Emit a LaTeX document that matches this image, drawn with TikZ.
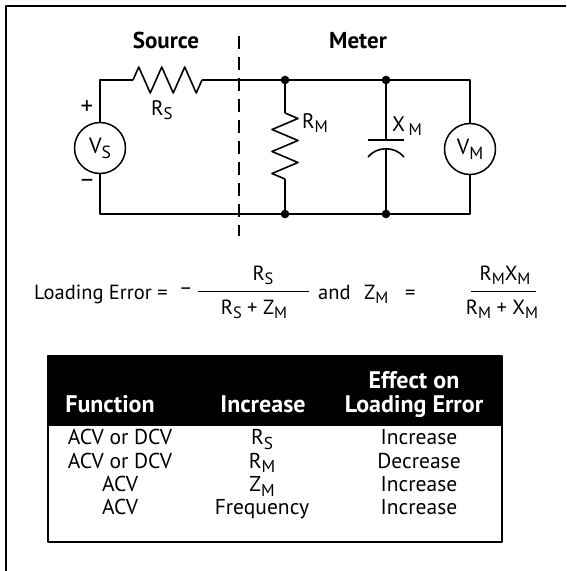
\documentclass[tikz,border=0pt]{standalone}
\usepackage{fontspec}
\setmainfont{PT Sans}
\newcommand{\subtxt}[1]{\raisebox{-0.22em}{\scalebox{0.8}{#1}}}
\tikzset{
	wire/.style={line width=1.6pt},
	meter/.style={draw, circle, line width=1.5pt, minimum size=51pt, inner sep=0pt, font=\fontsize{22}{24}\selectfont},
	lbl/.style={inner sep=0pt, font=\fontsize{21}{23}\selectfont},
	sign/.style={inner sep=0pt, font=\fontsize{25}{27}\selectfont},
	title/.style={inner sep=0pt, font=\fontsize{23}{25}\selectfont\bfseries},
	eqn/.style={inner sep=0pt, font=\fontsize{20.5}{23}\selectfont},
	cell/.style={inner sep=0pt, font=\fontsize{21.5}{23}\selectfont},
	head/.style={inner sep=0pt, text=white, font=\fontsize{24}{26}\selectfont\bfseries},
	bar/.style={line width=0.9pt}
}
\begin{document}
\begin{tikzpicture}[x=1pt, y=-1pt, line join=round]
	\useasboundingbox (0,0) rectangle (566,571);
	\draw[line width=2pt] (566,6) -- (6,6) -- (6,571);
	% circuit corners
	\coordinate (tl) at (100,80);
	\coordinate (bl) at (100,214);
	\coordinate (tr) at (470,80);
	\coordinate (br) at (470,214);
	\coordinate (rsa) at (133,80);
	\coordinate (rsb) at (202,80);
	\coordinate (jt1) at (285,80);
	\coordinate (jb1) at (285,214);
	\coordinate (jt2) at (386,80);
	\coordinate (jb2) at (386,214);
	\coordinate (rma) at (285,113);
	\coordinate (rmb) at (285,179);
	\coordinate (cpa) at (386,140);
	\coordinate (cpb) at (386,148.5);
	\coordinate (dsa) at (239,36);
	\coordinate (dsb) at (239,236);
	\node[meter] (vs) at (100,148) {V\subtxt{S}};
	\node[meter] (vm) at (470,149) {V\subtxt{M}};
	\draw[wire] (vs.north) -- (tl) -- (rsa);
	\draw[wire] (rsa) -- ++(5.75,-13) -- ++(11.5,26) -- ++(11.5,-26) -- ++(11.5,26) -- ++(11.5,-26) -- ++(11.5,26) -- (rsb);
	\draw[wire] (rsb) -- (tr) -- (vm.north);
	\draw[wire] (vm.south) -- (br) -- (bl) -- (vs.south);
	\draw[wire] (jt1) -- (rma);
	\draw[wire] (rma) -- ++(13,5.5) -- ++(-26,11) -- ++(26,11) -- ++(-26,11) -- ++(26,11) -- ++(-26,11) -- (rmb);
	\draw[wire] (rmb) -- (jb1);
	\draw[wire] (jt2) -- (cpa);
	\draw[wire] (368,140) -- (404,140);
	\draw[wire] (368,157) .. controls (377,146) and (395,146) .. (404,157);
	\draw[wire] (cpb) -- (jb2);
	\draw[wire, dash pattern=on 13pt off 8pt] (dsa) -- (dsb);
	\foreach \j in {jt1,jb1,jt2,jb2}
		\fill (\j) circle (4.3);
	\node[title, anchor=base] (src) at (166,48) {Source};
	\node[title, anchor=base] (mtr) at (358,48) {Meter};
	\node[sign] (plus) at (87,108) {+};
	\node[sign] (minus) at (87,183) {–};
	\node[lbl, anchor=base west] (rs) at (151,115) {R\subtxt{S}};
	\node[lbl, anchor=base west] (rm) at (302,128) {R\subtxt{M}};
	\node[lbl, anchor=base west] (xm) at (392,131) {X\,\subtxt{M}};
	% loading error
	\node[eqn, anchor=base west] (le) at (34,299) {Loading Error =};
	\node[eqn] (neg) at (186,291) {–};
	\coordinate (fa) at (198,291);
	\coordinate (fb) at (309,291);
	\draw[bar] (fa) -- (fb);
	\node[eqn, anchor=base] (num1) at (263,280) {R\subtxt{S}};
	\node[eqn, anchor=base] (den1) at (254,314) {R\subtxt{S} + Z\subtxt{M}};
	\node[eqn, anchor=base west] (and) at (318,299) {and};
	\node[eqn, anchor=base west] (zm) at (364,299) {Z\subtxt{M}};
	\node[eqn, anchor=base west] (eq) at (405,299) {=};
	\coordinate (ga) at (471,291);
	\coordinate (gb) at (536,291);
	\draw[bar] (ga) -- (gb);
	\node[eqn, anchor=base] (num2) at (505,280) {R\subtxt{M}X\subtxt{M}};
	\node[eqn, anchor=base] (den2) at (502,314) {R\subtxt{M} + X\subtxt{M}};
	% table
	\fill (48,356) rectangle (502,426);
	\draw[line width=1.5pt] (48,356) rectangle (502,542);
	\node[head, anchor=base] (hf) at (110,412) {Function};
	\node[head, anchor=base] (hi) at (263,412) {Increase};
	\node[head, anchor=base] (he) at (414,388) {Effect on};
	\node[head, anchor=base] (hl) at (414,412) {Loading Error};
	\foreach \fn/\inc/\eff [count=\r] in {ACV or DCV/R\subtxt{S}/Increase, ACV or DCV/R\subtxt{M}/Decrease, ACV/Z\subtxt{M}/Increase, ACV/Frequency/Increase}{
		\node[cell, anchor=base] (f\r) at (120,421.5+23.3*\r) {\fn};
		\node[cell, anchor=base] (i\r) at (262,421.5+23.3*\r) {\inc};
		\node[cell, anchor=base] (e\r) at (419,421.5+23.3*\r) {\eff};
	}
\end{tikzpicture}
\end{document}
